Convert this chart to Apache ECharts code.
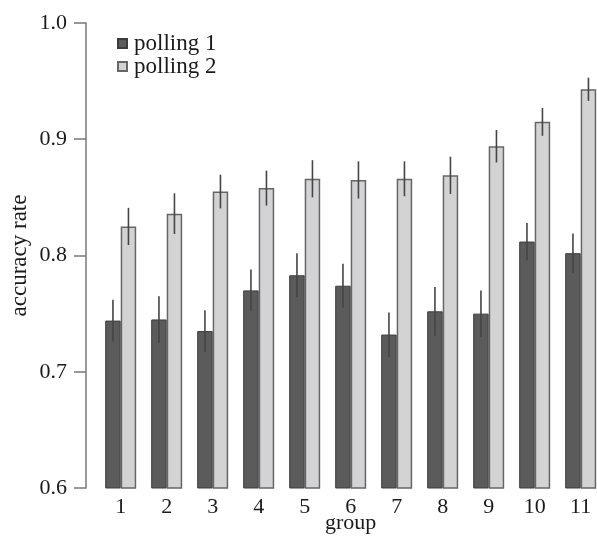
<!DOCTYPE html>
<html>
<head>
<meta charset="utf-8">
<script src="https://cdn.jsdelivr.net/npm/echarts@6/dist/echarts.min.js"></script>
<style>html,body{margin:0;padding:0;background:#fff;overflow:hidden}#c{width:597px;height:537px}</style>
</head>
<body>
<div id="c"></div>
<script>
const categories = ['1','2','3','4','5','6','7','8','9','10','11'];
const polling1 = [0.744, 0.745, 0.735, 0.770, 0.783, 0.774, 0.732, 0.752, 0.750, 0.812, 0.802];
const polling1Err = [0.018, 0.020, 0.018, 0.018, 0.019, 0.019, 0.019, 0.021, 0.020, 0.016, 0.017];
const polling2 = [0.825, 0.836, 0.855, 0.858, 0.866, 0.865, 0.866, 0.869, 0.894, 0.915, 0.943];
const polling2Err = [0.016, 0.0175, 0.0145, 0.015, 0.016, 0.016, 0.015, 0.016, 0.014, 0.012, 0.010];
const yTicks = [0.6, 0.7, 0.8, 0.9, 1.0];

const FONT = 'Liberation Serif';
const BAR_W = 15.5;

function errSeries(vals, errs, side) {
  return {
    type: 'custom',
    z: 5,
    silent: true,
    data: vals.map((v, i) => [i, v - errs[i], v + errs[i]]),
    renderItem: function (params, api) {
      const lo = api.coord([api.value(0), api.value(1)]);
      const hi = api.coord([api.value(0), api.value(2)]);
      const x = lo[0] + side * BAR_W / 2;
      return {
        type: 'line',
        shape: { x1: x, y1: hi[1], x2: x, y2: lo[1] },
        style: { stroke: '#454545', lineWidth: 1.6 }
      };
    }
  };
}

const chart = echarts.init(document.getElementById('c'));
chart.setOption({
  animation: false,
  backgroundColor: '#fff',
  legend: {
    data: ['polling 1', 'polling 2'],
    orient: 'vertical',
    left: 112,
    top: 27,
    icon: 'rect',
    itemWidth: 9,
    itemHeight: 9,
    itemGap: 0,
    textStyle: { fontFamily: FONT, fontSize: 23, color: '#1a1a1a', padding: [0, 0, 0, 2] }
  },
  grid: { left: 97.7, right: -6.7, top: 23, bottom: 49, containLabel: false, outerBoundsMode: 'none' },
  xAxis: {
    type: 'category',
    data: categories,
    name: 'group',
    nameLocation: 'middle',
    nameGap: 24,
    nameMoveOverlap: false,
    nameTextStyle: { fontFamily: FONT, fontSize: 22, color: '#1a1a1a' },
    axisLine: { show: false },
    axisTick: { show: false },
    axisLabel: { fontFamily: FONT, fontSize: 22, color: '#1a1a1a', margin: 8 }
  },
  yAxis: {
    type: 'value',
    min: 0.6,
    max: 1.0,
    interval: 0.1,
    offset: 11.7,
    name: 'accuracy rate',
    nameLocation: 'middle',
    nameGap: 55,
    nameMoveOverlap: false,
    nameTextStyle: { fontFamily: FONT, fontSize: 23, color: '#1a1a1a' },
    axisLine: { show: true, lineStyle: { color: '#777', width: 1.5 } },
    axisTick: { show: true, inside: false, length: 12, lineStyle: { color: '#777', width: 1.5 } },
    splitLine: { show: false },
    axisLabel: {
      fontFamily: FONT, fontSize: 22, color: '#1a1a1a', margin: 19,
      formatter: v => yTicks.find(t => Math.abs(t - v) < 1e-6).toFixed(1)
    }
  },
  series: [
    {
      name: 'polling 1', type: 'bar', data: polling1, barWidth: BAR_W, barGap: '0%',
      itemStyle: { color: '#5b5b5b', borderColor: '#3c3c3c', borderWidth: 1 }
    },
    {
      name: 'polling 2', type: 'bar', data: polling2, barWidth: BAR_W, barGap: '0%',
      itemStyle: { color: '#d3d3d5', borderColor: '#666', borderWidth: 1.5 }
    },
    errSeries(polling1, polling1Err, -1),
    errSeries(polling2, polling2Err, 1)
  ]
});
</script>
</body>
</html>
